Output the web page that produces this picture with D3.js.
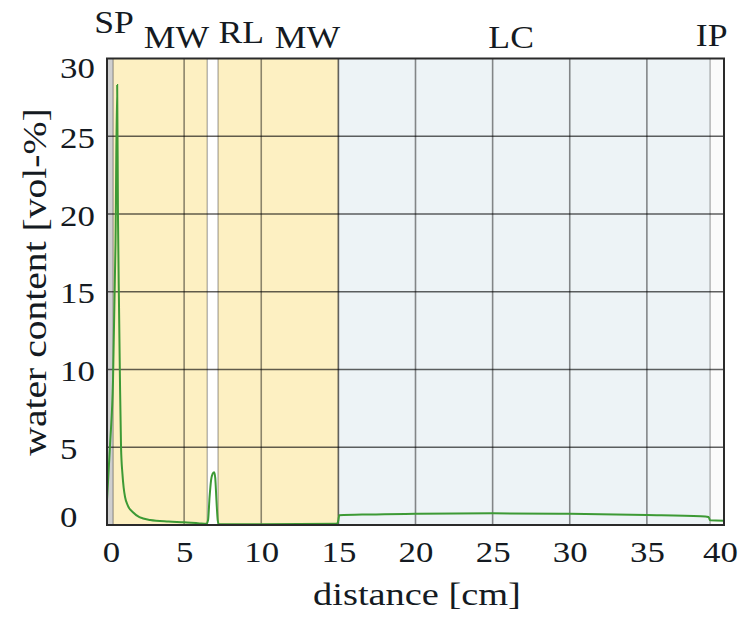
<html>
<meta charset="utf-8">
<head>
<script src="https://d3js.org/d3.v7.min.js"></script>
</head>
<body style="margin:0; background-color:#FFFFFF">
<div id="chart"></div>
<script>

// layers along the profile [cm]
var layerNames = ["SP", "MW", "RL", "MW", "LC", "IP"];
var layerStart = [0, 0.4, 6.5, 7.2, 15, 39.1];
var layerEnd   = [0.4, 6.5, 7.2, 15, 39.1, 40];
var layerLabelAt = [0.45, 4.5, 8.7, 13.0, 26.2, 39.2];

// water content profile
var distance = [0, 0.2, 0.39, 0.55, 0.66, 0.71, 0.78, 0.84, 0.91, 1.0, 1.08, 1.17, 1.35, 1.7, 2.1, 2.8, 4, 5, 6, 6.45,
                6.55, 6.65, 6.75, 6.85, 6.95, 7.02, 7.1, 7.18, 7.25,
                10, 14.9, 15.0, 15.05, 17, 20, 25, 30, 35, 38.5, 39.0, 39.1, 40];
var water = [1.6, 5.2, 9.3, 18, 28.3, 20, 14, 9.3, 5.0, 3.3, 2.4, 1.8, 1.25, 0.8, 0.5, 0.32, 0.22, 0.17, 0.1, 0.08,
             0.3, 1.8, 2.9, 3.3, 3.4, 3.0, 1.5, 0.3, 0.05,
             0.05, 0.08, 0.3, 0.62, 0.68, 0.72, 0.75, 0.72, 0.65, 0.57, 0.52, 0.3, 0.28];

var xTicks = [0, 5, 10, 15, 20, 25, 30, 35, 40];
var yTicks = [0, 5, 10, 15, 20, 25, 30];

var layerFill = {SP: "#cfcfcf", MW: "#FDF0C2", RL: "#FFFFFF", LC: "#EDF3F6", IP: "#FBFBFB"};
var textColor = "#141a22";
var serif = "'Liberation Serif', 'Times New Roman', serif";

var W = 741, H = 617;
var margin = {top: 58.5, right: 17, bottom: 92, left: 107};

var svg = d3.select("#chart")
  .append("svg")
    .attr("width", W)
    .attr("height", H);

var x = d3.scaleLinear().domain([0, 40]).range([margin.left, W - margin.right]);
var y = d3.scaleLinear().domain([0, 30]).range([H - margin.bottom, margin.top]);

// layer backgrounds
svg.selectAll("rect.layer")
  .data(layerNames)
  .enter()
  .append("rect")
    .attr("class", "layer")
    .attr("x", function(d, i) { return x(layerStart[i]); })
    .attr("width", function(d, i) { return x(layerEnd[i]) - x(layerStart[i]); })
    .attr("y", y(30))
    .attr("height", y(0) - y(30))
    .attr("fill", function(d) { return layerFill[d]; });

// layer boundaries
svg.selectAll("line.bound")
  .data(layerStart.slice(1))
  .enter()
  .append("line")
    .attr("x1", function(d) { return x(d); })
    .attr("x2", function(d) { return x(d); })
    .attr("y1", y(30))
    .attr("y2", y(0))
    .attr("stroke", "#000")
    .attr("stroke-opacity", 0.28)
    .attr("stroke-width", 1.5);

// grid
svg.selectAll("line.vgrid")
  .data(xTicks.slice(1, -1))
  .enter()
  .append("line")
    .attr("x1", function(d) { return x(d); })
    .attr("x2", function(d) { return x(d); })
    .attr("y1", y(30))
    .attr("y2", y(0))
    .attr("stroke", "#000")
    .attr("stroke-opacity", 0.45)
    .attr("stroke-width", 1.6);

svg.selectAll("line.hgrid")
  .data(yTicks.slice(1, -1))
  .enter()
  .append("line")
    .attr("x1", x(0))
    .attr("x2", x(40))
    .attr("y1", function(d) { return y(d); })
    .attr("y2", function(d) { return y(d); })
    .attr("stroke", "#000")
    .attr("stroke-opacity", 0.62)
    .attr("stroke-width", 1.6);

// profile line
var line = d3.line()
  .x(function(d, i) { return x(distance[i]); })
  .y(function(d) { return y(d); })
  .curve(d3.curveMonotoneX);

svg.append("path")
  .attr("d", line(water))
  .attr("fill", "none")
  .attr("stroke", "#3d9a35")
  .attr("stroke-width", 2);

// frame
svg.append("rect")
  .attr("x", x(0))
  .attr("y", y(30))
  .attr("width", x(40) - x(0))
  .attr("height", y(0) - y(30))
  .attr("fill", "none")
  .attr("stroke", "#2a2a2a")
  .attr("stroke-width", 2);

// x axis
var xAxis = svg.append("g")
  .attr("transform", "translate(0," + y(0) + ")")
  .call(d3.axisBottom(x).tickValues(xTicks).tickSize(0).tickFormat(d3.format("d")));
xAxis.select(".domain").remove();
xAxis.selectAll("text")
  .attr("y", 0)
  .attr("dy", 0)
  .attr("fill", textColor)
  .style("font-family", serif)
  .style("font-size", "29px")
  .attr("transform", function(d) {
    var dx = d === 0 ? 4 : (d === 40 ? -4 : 0);
    return "translate(" + dx + ",37) scale(1.2,1)";
  });

// y axis
var yAxis = svg.append("g")
  .attr("transform", "translate(" + x(0) + ",0)")
  .call(d3.axisLeft(y).tickValues(yTicks).tickSize(0).tickFormat(d3.format("d")));
yAxis.select(".domain").remove();
yAxis.selectAll("text")
  .attr("x", 0)
  .attr("dy", 0)
  .attr("text-anchor", "start")
  .attr("fill", textColor)
  .style("font-family", serif)
  .style("font-size", "29px")
  .attr("transform", function(d) {
    var dy = d === 0 ? -9 : (d === 30 ? 9 : 1);
    return "translate(-47," + (dy + 10) + ") scale(1.2,1)";
  });

// layer labels
var labelLift = [15, 0, 5, 0, 0, 2];
svg.selectAll("text.layer")
  .data(layerNames)
  .enter()
  .append("text")
    .attr("text-anchor", "middle")
    .attr("fill", textColor)
    .style("font-family", serif)
    .style("font-size", "31px")
    .attr("transform", function(d, i) {
      return "translate(" + x(layerLabelAt[i]) + "," + (48 - labelLift[i]) + ") scale(1.15,1)";
    })
    .text(function(d) { return d; });

// axis titles
svg.append("text")
  .attr("text-anchor", "middle")
  .attr("fill", textColor)
  .style("font-family", serif)
  .style("font-size", "32px")
  .attr("transform", "translate(417,605) scale(1.2,1)")
  .text("distance [cm]");

svg.append("text")
  .attr("text-anchor", "middle")
  .attr("fill", textColor)
  .style("font-family", serif)
  .style("font-size", "33px")
  .attr("transform", "translate(46,282) rotate(-90) scale(1.2,1)")
  .text("water content [vol-%]");

</script>
</body>
</html>
